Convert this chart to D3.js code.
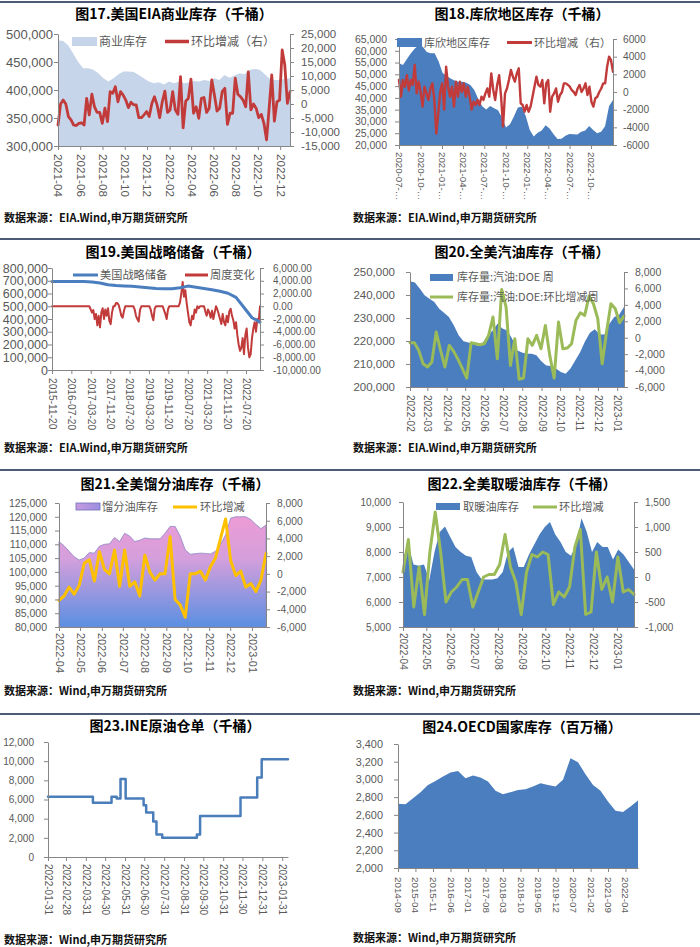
<!DOCTYPE html>
<html><head><meta charset="utf-8">
<script src="https://cdn.jsdelivr.net/npm/d3@7"></script>
<style>body{margin:0;background:#fff}svg{display:block}</style>
</head><body>
<svg id="c" width="700" height="947"></svg>
<script>
// ---------- DATA ----------
// 图17 美国EIA商业库存
const p1Range = ["2021-04-01","2022-12-28"];
const p1Ticks = ["2021-04","2021-06","2021-08","2021-10","2021-12","2022-02","2022-04","2022-06","2022-08","2022-10","2022-12"];
const p1Stock = [489000,487500,480000,465000,450000,439000,439000,436000,430000,421000,415000,421000,428000,433000,433000,432000,427000,421000,415000,412000,414000,410000,415000,412000,415000,412000,414000,416000,415000,418000,416000,421000,418000,427000,422000,426000,430000,428000,436000,437500,436000,428000,420000,418000,418000,420000,421000];
const p1Change = [-7500,0,1400,0,-4500,-5700,-7500,-7700,-6900,-6700,-7500,2000,-3900,3500,-1000,-3000,-3000,-6900,-1500,-6300,4400,3800,6200,800,4400,3200,1400,-1300,600,-300,-300,-4900,-4900,-3900,-2700,-4500,200,2600,-300,-4900,800,4600,-3000,-2100,4400,-2100,-3700,9800,-8500,1100,2000,8900,-3300,-1000,-5100,2000,2300,-3000,-1500,8600,3200,-2500,-1500,4400,5600,-7300,-3300,-3300,9200,3500,2600,1400,-1000,11500,-2100,0,-1500,-4900,-3700,-6900,-12800,-1500,10400,-6100,800,1400,19300,13900,200,4400];

// 图18 库欣地区库存
const p2Range = ["2020-07-01","2023-01-03"];
const p2Ticks = ["2020-07","2020-10","2021-01","2021-04","2021-07","2021-10","2022-01","2022-04","2022-07","2022-10"];
const p2Stock = [54700,54000,56500,59000,61000,62300,61700,59500,58900,58900,55500,50600,49400,48200,47400,46900,46900,46400,45500,43400,39500,36500,35100,36600,35600,34800,31600,27400,28800,32100,35900,36200,32200,26400,23600,25200,26200,28400,27000,24600,22600,22700,23900,24700,24600,24500,25600,26200,28100,26400,25000,25600,28000,36500,39100];
const p2Change = [1360,-530,1360,600,1900,200,1360,800,3060,-150,1170,0,-1660,600,-150,-900,400,980,-900,-4700,-2400,0,980,-2000,2870,600,-530,600,-1660,1170,-530,1170,0,980,-530,600,-530,-2000,-1100,-1470,-900,-1470,-530,-900,-150,400,-530,2100,230,-900,800,1900,-530,-3900,-150,400,1360,2500,1740,1170,2100,2680,-1280,-1470,-2230,-1470,-2230,-1660,-530,600,1740,800,600,1360,-1280,980,1360,-2230,-530,-150,400,-1100,-340,0,980,980,800,600,200,0,-340,400,800,0,400,980,-340,600,-1100,-1660,-700,-530,0,400,980,980,2870,4000,3600,2300];

// 图19 美国战略储备
const p3Range = ["2015-11-20","2023-01-12"];
const p3Ticks = ["2015-11-20","2016-07-20","2017-03-20","2017-11-20","2018-07-20","2019-03-20","2019-11-20","2020-07-20","2021-03-20","2021-11-20","2022-07-20"];
const p3Reserve = [695000,695000,695000,695000,695000,690000,682000,668000,662000,659000,656000,651000,645000,640000,638000,637000,645000,658000,649000,640000,630000,618000,602000,570000,490000,410000,376000];
const p3Change = [0,0,0,0,0,0,0,0,0,0,0,0,0,0,0,0,0,0,0,0,0,0,0,0,0,0,0,0,0,
 -500,-1000,-600,-2000,-1200,-3000,-1500,-3300,-1000,-300,-2000,-500,-1500,-300,-2300,-2800,-1000,0,0,500,500,200,-600,-1500,-1800,-700,
 0,0,0,0,0,0,0,-500,-1500,-2000,-2400,-600,0,0,0,0,0,0,0,-500,-1500,-2200,-400,0,0,0,0,0,0,-600,-1200,-2000,-500,
 0,0,0,0,0,0,0,0,600,2000,3800,1500,2500,500,-1000,-2500,-3000,-1500,-2000,-500,-1000,0,-300,0,0,0,0,
 -800,-1500,-500,-1000,-1800,-700,-2000,-1000,0,-500,-1200,-2000,-2800,-1200,-2500,-3000,-1500,-2500,-800,-400,-1500,-2200,-3500,-2500,
 -4500,-6000,-7000,-6500,-5000,-7500,-4500,-3500,-6500,-8000,-7500,-5000,-3500,-2500,-4000,-2000,-2500,0];

// 图20 全美汽油库存
const p4Range = ["2022-02-01","2023-01-12"];
const p4Ticks = ["2022-02","2022-03","2022-04","2022-05","2022-06","2022-07","2022-08","2022-09","2022-10","2022-11","2022-12","2023-01"];
const p4Stock = [246000,245400,242800,239900,238400,237000,234000,232300,230400,226800,222500,219900,219300,218800,217800,219300,222500,224600,227500,225400,224600,221000,216000,215000,214500,214500,213800,211200,209400,209100,208000,206500,205800,208000,211600,215200,219900,223600,225100,222800,222800,227500,230400,231400,234800];
const p4Change = [-600,-600,-1540,-3170,-3570,-2960,690,-1540,-3570,-930,-1660,-2640,-3770,-4910,-600,-730,-850,-730,280,2520,-2560,5880,3730,-3370,-120,-5070,-4910,-120,-930,280,-1340,1500,-2150,-4910,1900,-1340,-1260,-730,2110,3040,2720,5070,4140,2310,-3170,690,4140,3530,1830,2640];

// 图21 全美馏分油库存
const p5Range = ["2022-04-01","2023-01-21"];
const p5Ticks = ["2022-04","2022-05","2022-06","2022-07","2022-08","2022-09","2022-10","2022-11","2022-12","2023-01"];
const p5Stock = [111000,109500,107500,105500,104300,105000,107000,106800,109300,110000,110200,112500,111000,114000,113000,111000,111500,112300,112000,112000,112000,114000,116500,116500,113000,108000,106400,106600,106800,106700,106500,107500,110000,113500,119500,120000,120000,120000,119000,117200,115700,117000];
const p5Change = [-3000,-2500,-1500,-2300,-1300,1200,1600,-800,2500,500,0,2700,-1400,2700,-1400,-900,-2500,2100,200,-700,0,0,4200,-2900,-3500,-4900,0,0,300,-700,800,1800,4000,6200,1500,-200,300,-1500,-1100,-2000,-700,2300];

// 图22 全美取暖油库存
const p6Range = ["2022-04-01","2023-01-23"];
const p6Ticks = ["2022-04","2022-05","2022-06","2022-07","2022-08","2022-09","2022-10","2022-11","2022-12","2023-01"];
const p6Stock = [7750,8300,7500,7450,7500,6870,8000,8800,9020,8600,8200,8000,7850,7800,7200,6900,6900,6900,6950,7200,8000,8200,7400,7400,7900,8300,8700,9000,9200,8700,8400,8000,7850,8300,9350,8800,8000,8400,8200,8200,7700,8100,7900,7600,7300];
const p6Change = [100,750,-600,200,-750,500,1300,500,-500,-300,-200,-50,-50,-600,-300,0,50,50,250,850,200,-100,-750,100,450,400,500,450,-550,-300,-400,-200,600,950,-750,-700,500,-250,0,-500,400,-300,-250,-350];

// 图23 INE原油仓单
const p7Range = ["2022-01-31","2023-02-09"];
const p7Ticks = ["2022-01-31","2022-02-28","2022-03-31","2022-04-30","2022-05-31","2022-06-30","2022-07-31","2022-08-31","2022-09-30","2022-10-31","2022-11-30","2022-12-31","2023-01-31"];
const p7Dates = ["2022-01-31","2022-04-11","2022-05-10","2022-05-18","2022-05-24","2022-06-01","2022-06-29","2022-07-03","2022-07-14","2022-07-19","2022-07-28","2022-09-20","2022-09-25","2022-11-27","2022-12-23","2022-12-30","2023-02-09"];
const p7Values = [6300,5650,6300,6100,8150,6100,5400,4650,3700,2350,2000,2350,4270,6200,8300,10200,10200];

// 图24 OECD国家库存
const p8Range = ["2014-09-01","2022-09-01"];
const p8Ticks = ["2014-09","2015-04","2015-11","2016-06","2017-01","2017-08","2018-03","2018-10","2019-05","2019-12","2020-07","2021-02","2021-09","2022-04"];
const p8Stock = [2724,2720,2788,2856,2938,2983,3032,3077,3096,3013,3043,3021,2976,2871,2833,2856,2882,2890,2920,2957,2938,2920,2995,3239,3194,3059,2938,2871,2751,2646,2631,2694,2762];

// ---------- DRAW ----------
const svg = d3.select("#c");
const AX = "#868686", TXT = "#595959", RED = "#c23b3b", BLUE = "#4a7ebf", GREEN = "#9bbb59", ORANGE = "#ffc000";
const NUM = "'Liberation Sans', Arial, sans-serif";
const CJK = "'Noto Sans CJK SC', sans-serif";
const loc = d3.formatLocale({decimal:".", thousands:",", grouping:[3], currency:["",""], minus:"-"});
const fC = loc.format(","), fD = loc.format("d"), f2 = loc.format(",.2f");
function parse(s){ const p = s.split("-").map(Number); return new Date(p[0], p[1]-1, p[2]||1); }
function spread(dom, n){ const a=+dom[0], b=+dom[1]; return d3.range(n).map(i => new Date(a + (b-a)*i/(n-1))); }

const defs = svg.append("defs");
const gr = defs.append("linearGradient").attr("id","grad5").attr("gradientUnits","userSpaceOnUse")
  .attr("x1",0).attr("y1",503).attr("x2",0).attr("y2",627);
gr.append("stop").attr("offset","0%").attr("stop-color","#f59ad2");
gr.append("stop").attr("offset","45%").attr("stop-color","#d49fdc");
gr.append("stop").attr("offset","100%").attr("stop-color","#5a8fe2");
const gs = defs.append("linearGradient").attr("id","grad5s").attr("x1",0).attr("y1",0).attr("x2",1).attr("y2",0);
gs.append("stop").attr("offset","0%").attr("stop-color","#c89ae0");
gs.append("stop").attr("offset","100%").attr("stop-color","#9a8ee0");

// separators
[2, 239, 470, 714].forEach(y => svg.append("line").attr("x1",0).attr("x2",700).attr("y1",y).attr("y2",y)
  .attr("stroke","#4d5b78").attr("stroke-width",2));

function styleAxis(sel, size){
  sel.select(".domain").attr("stroke", AX);
  sel.selectAll(".tick line").attr("stroke", AX);
  sel.selectAll(".tick text").attr("fill", TXT).attr("font-size", size).attr("font-family", NUM);
}

function panel(o){
  const g = svg.append("g");
  const x = d3.scaleTime().domain(o.range.map(parse)).range([o.L, o.R]);
  const yL = d3.scaleLinear().domain(o.yL.dom).range([o.B, o.T]);
  const yR = o.yR ? d3.scaleLinear().domain(o.yR.dom).range([o.B, o.T]) : null;
  o.series.forEach(s => {
    const y = s.axis === "R" ? yR : yL;
    const dates = s.dates ? s.dates.map(parse) : spread(x.domain(), s.values.length);
    const pts = s.values.map((v,i) => [dates[i], v]);
    if (s.type === "area") {
      g.append("path").datum(pts)
        .attr("d", d3.area().x(d => x(d[0])).y0(o.B).y1(d => y(d[1])))
        .attr("fill", s.color).attr("stroke", s.stroke || "none").attr("stroke-width", s.sw || 0);
    } else {
      g.append("path").datum(pts)
        .attr("d", d3.line().x(d => x(d[0])).y(d => y(d[1])).curve(s.step ? d3.curveStepAfter : d3.curveLinear))
        .attr("fill","none").attr("stroke", s.color).attr("stroke-width", s.width)
        .attr("stroke-linejoin","round").attr("stroke-linecap","round");
    }
  });
  // left axis
  const lt = d3.range(o.yL.dom[0], o.yL.dom[1] + o.yL.step/2, o.yL.step);
  const gL = g.append("g").attr("transform",`translate(${o.L},0)`)
    .call(d3.axisLeft(yL).tickValues(lt).tickFormat(o.yL.fmt).tickSizeInner(4).tickSizeOuter(0).tickPadding(o.yL.pad));
  styleAxis(gL, o.yL.size);
  if (yR) {
    const rt = d3.range(o.yR.dom[0], o.yR.dom[1] + o.yR.step/2, o.yR.step);
    const gR = g.append("g").attr("transform",`translate(${o.R},0)`)
      .call(d3.axisRight(yR).tickValues(rt).tickFormat(o.yR.fmt).tickSizeInner(4).tickSizeOuter(0).tickPadding(o.yR.pad));
    styleAxis(gR, o.yR.size);
  }
  // x axis
  const gX = g.append("g").attr("transform",`translate(0,${o.B})`)
    .call(d3.axisBottom(x).tickValues(o.ticks.map(parse)).tickFormat((d,i) => o.xLabel(o.ticks[i])).tickSizeInner(4).tickSizeOuter(0));
  styleAxis(gX, o.xSize);
  gX.selectAll(".tick text").attr("transform","rotate(90)").attr("text-anchor","start")
    .attr("x", o.xOff).attr("y", 0).attr("dy","0.35em");
  // legend
  (o.legend || []).forEach(it => {
    if (it.kind === "rect") g.append("rect").attr("x", it.x).attr("y", it.y).attr("width", it.w).attr("height", it.h)
      .attr("fill", it.color).attr("stroke", it.stroke || "none").attr("stroke-width", 0.8);
    else g.append("line").attr("x1", it.x).attr("x2", it.x + it.w).attr("y1", it.y).attr("y2", it.y)
      .attr("stroke", it.color).attr("stroke-width", it.h);
    g.append("text").attr("x", it.tx).attr("y", it.ty).text(it.text)
      .attr("font-family", CJK).attr("font-size", it.fs).attr("fill", TXT);
  });
  // title & source
  g.append("text").attr("x", o.title[1]).attr("y", o.title[2]).attr("text-anchor","middle").text(o.title[0])
    .attr("font-family", CJK).attr("font-weight", 700).attr("font-size", 14).attr("fill", "#000");
  g.append("text").attr("x", o.src[1]).attr("y", o.src[2]).text(o.src[0])
    .attr("font-family", CJK).attr("font-weight", 700).attr("font-size", 11).attr("fill", "#111");
}

const ym = t => t;
const src1 = "数据来源：EIA.Wind,申万期货研究所", src2 = "数据来源：Wind,申万期货研究所";

panel({L:58,R:290,T:34,B:146, range:p1Range, ticks:p1Ticks, xLabel:ym, xSize:11.7, xOff:8,
  yL:{dom:[300000,500000],step:50000,fmt:fC,pad:1,size:13},
  yR:{dom:[-15000,25000],step:5000,fmt:fC,pad:7,size:11.5},
  series:[{type:"area",values:p1Stock,color:"#c6d5ea"},{type:"line",axis:"R",values:p1Change,color:RED,width:2.8}],
  legend:[{kind:"rect",x:72,y:37,w:25,h:9,color:"#c6d5ea",tx:99,ty:46,text:"商业库存",fs:12},
          {kind:"line",x:165,y:41.5,w:24,h:3.5,color:RED,tx:191,ty:46,text:"环比增减（右）",fs:12}],
  title:["图17.美国EIA商业库存（千桶）",174,19], src:[src1,4,222]});

panel({L:399,R:613,T:39,B:145, range:p2Range, ticks:p2Ticks, xLabel:t => t + "-…", xSize:9.7, xOff:7,
  yL:{dom:[20000,65000],step:5000,fmt:fC,pad:8,size:10.5},
  yR:{dom:[-6000,6000],step:2000,fmt:fD,pad:6,size:10.2},
  series:[{type:"area",values:p2Stock,color:BLUE},{type:"line",axis:"R",values:p2Change,color:RED,width:2.4}],
  legend:[{kind:"rect",x:397,y:38,w:25,h:9,color:BLUE,tx:424,ty:46.5,text:"库欣地区库存",fs:11},
          {kind:"line",x:507,y:42.5,w:25,h:3,color:RED,tx:534,ty:46.5,text:"环比增减（右）",fs:11}],
  title:["图18.库欣地区库存（千桶）",522,19], src:[src1,353,222]});

panel({L:52,R:260,T:268,B:370, range:p3Range, ticks:p3Ticks, xLabel:ym, xSize:10.2, xOff:8,
  yL:{dom:[0,800000],step:100000,fmt:fC,pad:0,size:12.5},
  yR:{dom:[-10000,6000],step:2000,fmt:f2,pad:9,size:10},
  series:[{type:"line",axis:"R",values:p3Change,color:RED,width:2},{type:"line",values:p3Reserve,color:BLUE,width:3}],
  legend:[{kind:"line",x:73,y:275,w:25,h:3,color:BLUE,tx:100,ty:279,text:"美国战略储备",fs:11.2},
          {kind:"line",x:185,y:275,w:23,h:3,color:RED,tx:210,ty:279,text:"周度变化",fs:11.2}],
  title:["图19.美国战略储备（千桶）",173,257], src:[src1,4,452]});

panel({L:410,R:624,T:272,B:387, range:p4Range, ticks:p4Ticks, xLabel:ym, xSize:10, xOff:8,
  yL:{dom:[200000,250000],step:10000,fmt:fC,pad:11,size:11.5},
  yR:{dom:[-6000,8000],step:2000,fmt:fC,pad:7,size:10.5},
  series:[{type:"area",values:p4Stock,color:BLUE},{type:"line",axis:"R",values:p4Change,color:GREEN,width:3}],
  legend:[{kind:"rect",x:430,y:274,w:23,h:7,color:BLUE,tx:457,ty:281,text:"库存量:汽油:DOE 周",fs:11},
          {kind:"line",x:430,y:297,w:23,h:3,color:GREEN,tx:457,ty:301,text:"库存量:汽油:DOE:环比增减周",fs:11}],
  title:["图20.全美汽油库存（千桶）",522,257], src:[src1,353,452]});

panel({L:59,R:266,T:503,B:627, range:p5Range, ticks:p5Ticks, xLabel:ym, xSize:10.9, xOff:6,
  yL:{dom:[80000,125000],step:5000,fmt:fC,pad:8,size:10.5},
  yR:{dom:[-6000,8000],step:2000,fmt:fC,pad:7,size:10.3},
  series:[{type:"area",values:p5Stock,color:"url(#grad5)",stroke:"#8a86c8",sw:0.8},{type:"line",axis:"R",values:p5Change,color:ORANGE,width:3}],
  legend:[{kind:"rect",x:76,y:503,w:24,h:7,color:"url(#grad5s)",stroke:"#6f6fb8",tx:102,ty:511,text:"馏分油库存",fs:11.2},
          {kind:"line",x:173,y:507,w:24,h:3,color:ORANGE,tx:200,ty:511,text:"环比增减",fs:11.2}],
  title:["图21.全美馏分油库存（千桶）",175,489], src:[src2,4,695]});

panel({L:403,R:634,T:502,B:627, range:p6Range, ticks:p6Ticks, xLabel:ym, xSize:10, xOff:6,
  yL:{dom:[5000,10000],step:1000,fmt:fC,pad:8,size:10},
  yR:{dom:[-1000,1500],step:500,fmt:fC,pad:7,size:10},
  series:[{type:"area",values:p6Stock,color:BLUE},{type:"line",axis:"R",values:p6Change,color:GREEN,width:3}],
  legend:[{kind:"rect",x:436,y:503,w:24,h:7,color:BLUE,tx:463,ty:511,text:"取暖油库存",fs:11.2},
          {kind:"line",x:533,y:507,w:24,h:3,color:GREEN,tx:559,ty:511,text:"环比增减",fs:11.2}],
  title:["图22.全美取暖油库存（千桶）",522,489], src:[src2,353,695]});

panel({L:48,R:288,T:742,B:857, range:p7Range, ticks:p7Ticks, xLabel:ym, xSize:10, xOff:7,
  yL:{dom:[0,12000],step:2000,fmt:fC,pad:10,size:10.1},
  series:[{type:"line",values:p7Values,dates:p7Dates,step:true,color:"#4a7ebb",width:2.5}],
  title:["图23.INE原油仓单（千桶）",175,731], src:[src2,4,944]});

panel({L:398,R:638,T:744,B:868, range:p8Range, ticks:p8Ticks, xLabel:ym, xSize:9.8, xOff:9,
  yL:{dom:[2000,3400],step:200,fmt:fC,pad:11,size:10.9},
  series:[{type:"area",values:p8Stock,color:BLUE}],
  title:["图24.OECD国家库存（百万桶）",522,732], src:[src2,353,942]});
</script>
</body></html>
